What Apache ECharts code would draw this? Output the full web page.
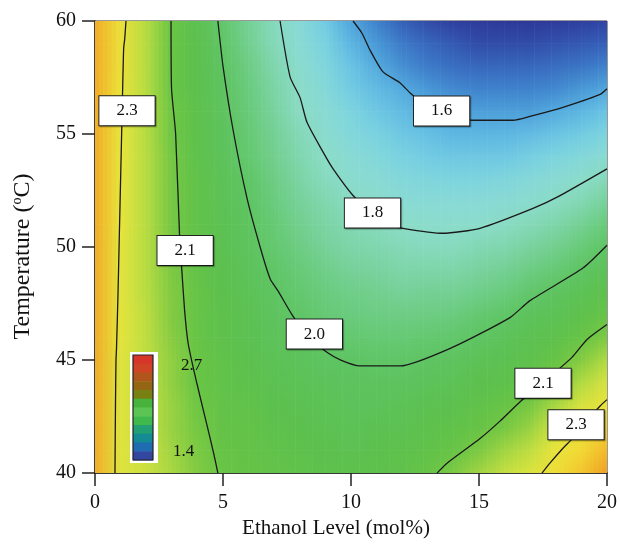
<!DOCTYPE html>
<html>
<head>
<meta charset="utf-8">
<script src="https://cdn.jsdelivr.net/npm/echarts@6/dist/echarts.min.js"></script>
<style>
  html, body { margin: 0; padding: 0; background: #fff; }
  #main { width: 620px; height: 544px; }
</style>
</head>
<body>
<div id="main"></div>
<script>
// ethanol level (mol%) columns and temperature rows of the response grid
var ethanol = [0, 1, 2, 3, 4, 5, 6, 7, 8, 9, 10, 11, 12, 13, 14, 15, 16, 17, 18, 19, 20];
var temps = [60, 59, 58, 57, 56, 55, 54, 53, 52, 51, 50, 49, 48, 47, 46, 45, 44, 43, 42, 41, 40];
// response values, one row per temperature (top row = 60)
var response = [
  [2.42, 2.32, 2.21, 2.10, 2.04, 1.98, 1.90, 1.82, 1.75, 1.68, 1.60, 1.55, 1.50, 1.47, 1.45, 1.44, 1.43, 1.43, 1.44, 1.45, 1.46],
  [2.42, 2.32, 2.21, 2.10, 2.05, 1.99, 1.91, 1.83, 1.76, 1.70, 1.63, 1.58, 1.54, 1.51, 1.49, 1.47, 1.47, 1.47, 1.48, 1.49, 1.50],
  [2.42, 2.32, 2.21, 2.10, 2.05, 2.00, 1.93, 1.85, 1.78, 1.72, 1.66, 1.61, 1.57, 1.54, 1.52, 1.51, 1.51, 1.51, 1.52, 1.53, 1.55],
  [2.42, 2.31, 2.21, 2.10, 2.05, 2.01, 1.94, 1.87, 1.80, 1.74, 1.68, 1.64, 1.61, 1.58, 1.56, 1.55, 1.55, 1.55, 1.56, 1.58, 1.60],
  [2.42, 2.31, 2.21, 2.11, 2.06, 2.01, 1.95, 1.88, 1.81, 1.76, 1.71, 1.67, 1.64, 1.61, 1.60, 1.59, 1.59, 1.59, 1.61, 1.63, 1.66],
  [2.42, 2.30, 2.21, 2.11, 2.06, 2.02, 1.96, 1.90, 1.83, 1.78, 1.73, 1.70, 1.67, 1.65, 1.63, 1.63, 1.63, 1.64, 1.66, 1.68, 1.71],
  [2.42, 2.30, 2.21, 2.12, 2.06, 2.02, 1.97, 1.91, 1.85, 1.80, 1.76, 1.73, 1.70, 1.68, 1.67, 1.67, 1.67, 1.69, 1.71, 1.73, 1.77],
  [2.42, 2.30, 2.21, 2.12, 2.07, 2.03, 1.99, 1.93, 1.87, 1.82, 1.78, 1.76, 1.73, 1.72, 1.71, 1.71, 1.72, 1.74, 1.76, 1.79, 1.83],
  [2.42, 2.30, 2.21, 2.12, 2.07, 2.03, 2.00, 1.94, 1.89, 1.85, 1.81, 1.79, 1.76, 1.75, 1.75, 1.75, 1.76, 1.78, 1.81, 1.84, 1.89],
  [2.42, 2.30, 2.21, 2.12, 2.07, 2.04, 2.01, 1.96, 1.91, 1.87, 1.84, 1.82, 1.80, 1.79, 1.79, 1.79, 1.81, 1.83, 1.86, 1.90, 1.95],
  [2.42, 2.29, 2.21, 2.13, 2.08, 2.04, 2.01, 1.97, 1.93, 1.89, 1.86, 1.85, 1.83, 1.82, 1.82, 1.84, 1.85, 1.88, 1.91, 1.95, 2.00],
  [2.42, 2.29, 2.21, 2.13, 2.08, 2.05, 2.02, 1.99, 1.95, 1.92, 1.89, 1.88, 1.86, 1.86, 1.86, 1.88, 1.90, 1.93, 1.96, 2.00, 2.03],
  [2.42, 2.29, 2.21, 2.14, 2.09, 2.05, 2.03, 2.00, 1.97, 1.94, 1.92, 1.91, 1.89, 1.90, 1.90, 1.92, 1.94, 1.98, 2.01, 2.03, 2.06],
  [2.42, 2.29, 2.22, 2.14, 2.09, 2.06, 2.04, 2.01, 1.99, 1.96, 1.94, 1.93, 1.93, 1.93, 1.94, 1.97, 1.99, 2.02, 2.03, 2.06, 2.09],
  [2.42, 2.29, 2.22, 2.15, 2.09, 2.06, 2.04, 2.02, 2.01, 1.99, 1.97, 1.96, 1.96, 1.97, 1.98, 2.00, 2.02, 2.04, 2.06, 2.09, 2.13],
  [2.42, 2.28, 2.22, 2.16, 2.10, 2.07, 2.05, 2.03, 2.02, 2.00, 2.00, 1.99, 1.99, 2.00, 2.01, 2.03, 2.04, 2.06, 2.09, 2.14, 2.20],
  [2.42, 2.28, 2.23, 2.16, 2.10, 2.07, 2.06, 2.04, 2.03, 2.02, 2.01, 2.01, 2.01, 2.02, 2.03, 2.05, 2.06, 2.09, 2.13, 2.20, 2.26],
  [2.42, 2.28, 2.23, 2.17, 2.11, 2.08, 2.07, 2.05, 2.04, 2.03, 2.02, 2.02, 2.03, 2.04, 2.05, 2.07, 2.09, 2.12, 2.19, 2.26, 2.31],
  [2.42, 2.28, 2.23, 2.17, 2.12, 2.08, 2.08, 2.06, 2.05, 2.04, 2.03, 2.04, 2.04, 2.06, 2.07, 2.09, 2.12, 2.17, 2.25, 2.31, 2.36],
  [2.42, 2.28, 2.24, 2.18, 2.13, 2.09, 2.08, 2.07, 2.06, 2.05, 2.04, 2.05, 2.06, 2.07, 2.09, 2.13, 2.18, 2.22, 2.30, 2.35, 2.40],
  [2.42, 2.28, 2.24, 2.19, 2.14, 2.10, 2.09, 2.08, 2.07, 2.06, 2.06, 2.06, 2.07, 2.09, 2.13, 2.18, 2.23, 2.27, 2.33, 2.38, 2.44]
];

// contour lines, [ethanol, temperature] along each line
var contour23Left = [[1.21, 60], [1.16, 59.2], [1.12, 58.8], [1.08, 57], [1.04, 55], [0.99, 52.5], [0.94, 50], [0.9, 48], [0.84, 45.5], [0.82, 45], [0.8, 43], [0.78, 40]];
var contour21Left = [[2.97, 60], [2.99, 57], [3.15, 55], [3.32, 50], [3.39, 49], [3.5, 47.2], [3.63, 45.8], [3.83, 44.7], [4.1, 43.4], [4.4, 42.0], [4.65, 40.8], [4.8, 40]];
var contour20 = [[4.8, 60], [5.0, 58], [5.39, 55.2], [5.94, 52.15], [6.45, 50], [6.84, 48.6], [7.15, 48.06], [7.7, 47], [8.35, 46], [9.06, 45.35], [9.6, 45.0], [10.35, 44.74], [11.91, 44.74], [13.98, 45.57], [16.21, 46.88], [16.99, 47.63], [19.06, 49.07], [20, 50.08]];
var contour18 = [[7.23, 60], [7.62, 57.53], [8.01, 56.61], [8.28, 55.52], [8.91, 54.2], [9.3, 53.46], [10.08, 52.28], [10.8, 51.5], [11.5, 51.0], [12.03, 50.83], [13.59, 50.61], [15.04, 50.83], [17.11, 51.71], [18.09, 52.23], [20, 53.46]];
var contour16 = [[10.08, 60], [10.43, 59.46], [10.74, 58.72], [11.25, 57.75], [11.91, 57.27], [12.3, 56.83], [13.0, 56.2], [14.0, 55.75], [14.77, 55.61], [16.33, 55.61], [16.99, 55.78], [18.28, 56.18], [19.73, 56.75], [20, 57.0]];
var contour21Right = [[13.36, 40], [13.75, 40.44], [15.04, 41.53], [15.82, 42.3], [16.65, 43.2], [17.5, 44.0], [18.63, 45.12], [19.22, 45.91], [20, 46.57]];
var contour23Right = [[17.46, 40], [17.77, 40.44], [18.28, 41.1], [18.63, 41.5], [19.2, 42.3], [19.73, 42.97], [20, 43.25]];

// contour labels
var labelText = ['2.3', '2.1', '2.0', '1.8', '1.6', '2.1', '2.3'];
var labelX = [1.25, 3.52, 8.57, 10.84, 13.54, 17.5, 18.79];
var labelY = [56.03, 49.85, 46.15, 51.51, 56.02, 43.98, 42.14];

var serif = '"Liberation Serif", "Times New Roman", serif';
var nCol = ethanol.length, nRow = temps.length;

var gridData = [];
temps.forEach(function (t, j) {
  ethanol.forEach(function (e, i) {
    gridData.push([e, t, response[j][i]]);
  });
});

var contours = [contour23Left, contour21Left, contour20, contour18, contour16, contour21Right, contour23Right];
var lineSeries = contours.map(function (c) {
  return {
    type: 'line',
    data: c,
    showSymbol: false,
    smooth: 0.2,
    z: 3,
    lineStyle: { color: '#1a1a1a', width: 1.3 }
  };
});

var labelData = labelText.map(function (t, i) {
  return { value: [labelX[i], labelY[i]], name: t };
});

// colour bar decoration
var barColors = ['#d8352a', '#cf4424', '#b0561c', '#946614', '#788012', '#48b33c', '#5bc453', '#3fb84c', '#22a074', '#148a94', '#1f6cb0', '#3147a0'];
var graphics = [{ type: 'rect', shape: { x: 130, y: 352, width: 28, height: 111 }, style: { fill: '#fff' }, z: 10 }];
barColors.forEach(function (c, k) {
  graphics.push({ type: 'rect', shape: { x: 133, y: 355 + k * 105 / barColors.length, width: 20, height: 105 / barColors.length + 0.5 }, style: { fill: c }, z: 11 });
});
graphics.push({ type: 'rect', shape: { x: 133, y: 355, width: 20, height: 105 }, style: { fill: 'none', stroke: '#222', lineWidth: 1.2 }, z: 12 });
graphics.push({ type: 'text', x: 181, y: 357, style: { text: '2.7', font: '17px ' + serif, fill: '#111' }, z: 12 });
graphics.push({ type: 'text', x: 173, y: 443, style: { text: '1.4', font: '17px ' + serif, fill: '#111' }, z: 12 });

var myChart = echarts.init(document.getElementById('main'));

var axisCommon = {
  type: 'value',
  axisLine: { show: true, lineStyle: { color: '#222', width: 1.5 } },
  axisTick: { show: true, length: 13, lineStyle: { color: '#222', width: 1.5 } },
  axisLabel: { fontSize: 20, fontFamily: serif, color: '#111' },
  splitLine: { show: false },
  nameLocation: 'middle'
};

// each grid cell is filled with narrow strips that blend the four corner colours
var STRIPS = 6;
function renderCell(params, api) {
  var idx = params.dataIndexInside;
  var col = idx % nCol, row = Math.floor(idx / nCol);
  if (col === nCol - 1 || row === nRow - 1) return;
  var pTL = api.coord([ethanol[col], temps[row]]);
  var pBR = api.coord([ethanol[col + 1], temps[row + 1]]);
  var cTL = api.visual('color', idx);
  var cTR = api.visual('color', idx + 1);
  var cBL = api.visual('color', idx + nCol);
  var cBR = api.visual('color', idx + nCol + 1);
  var w = (pBR[0] - pTL[0]) / STRIPS;
  var children = [];
  for (var s = 0; s < STRIPS; s++) {
    var f = (s + 0.5) / STRIPS;
    var top = echarts.color.lerp(f, [cTL, cTR]);
    var bot = echarts.color.lerp(f, [cBL, cBR]);
    children.push({
      type: 'rect',
      shape: { x: pTL[0] + s * w - 0.3, y: pTL[1] - 0.3, width: w + 0.6, height: pBR[1] - pTL[1] + 0.6 },
      style: {
        fill: new echarts.graphic.LinearGradient(0, 0, 0, 1, [
          { offset: 0, color: top }, { offset: 1, color: bot }
        ])
      }
    });
  }
  return { type: 'group', children: children };
}

option = {
  animation: false,
  grid: { left: 95, right: 13, top: 21, bottom: 67, show: true, borderColor: '#333', borderWidth: 1, backgroundColor: 'transparent' },
  xAxis: Object.assign({}, axisCommon, {
    min: 0, max: 20, interval: 5,
    axisLabel: Object.assign({}, axisCommon.axisLabel, { margin: 20 }),
    name: 'Ethanol Level (mol%)',
    nameGap: 38,
    nameTextStyle: { fontSize: 21, fontFamily: serif, color: '#111', padding: [0, 30, 0, 0] }
  }),
  yAxis: Object.assign({}, axisCommon, {
    min: 40, max: 60, interval: 5,
    axisLabel: Object.assign({}, axisCommon.axisLabel, { margin: 19 }),
    name: 'Temperature ({s|o}C)',
    nameGap: 60,
    nameTextStyle: {
      fontSize: 24, fontFamily: serif, color: '#111', padding: [0, 19, 0, 0],
      rich: { s: { fontSize: 14, fontFamily: serif, color: '#111', verticalAlign: 'top', padding: [0, 0, 11, 0] } }
    }
  }),
  visualMap: {
    type: 'continuous',
    show: false,
    dimension: 2,
    seriesIndex: 0,
    min: 1.40,
    max: 2.50,
    inRange: {
      color: ['#2a2e8e', '#2f3e9e', '#3560b8', '#3f82cc', '#50a6dc', '#66c0e4', '#7ad2e0', '#88dad6',
        '#8cdcc8', '#80d6ae', '#74d094', '#68ca78', '#5ec462', '#5cc04e', '#68c444', '#88cc42',
        '#b0da42', '#d2e240', '#e8e43c', '#f2d834', '#f2b82a', '#ee9a22', '#e88020']
    }
  },
  graphic: graphics,
  series: [{
    type: 'custom',
    data: gridData,
    encode: { x: 0, y: 1 },
    clip: true,
    z: 1,
    renderItem: renderCell
  }].concat(lineSeries).concat([{
    type: 'scatter',
    data: labelData,
    symbolSize: 0,
    z: 10,
    itemStyle: { opacity: 1 },
    label: {
      show: true,
      position: 'inside',
      formatter: function (p) { return p.name; },
      fontFamily: serif,
      fontSize: 17,
      lineHeight: 20,
      color: '#111',
      opacity: 1,
      backgroundColor: '#fff',
      borderColor: '#222',
      borderWidth: 1,
      padding: [5, 17, 4, 17],
      shadowColor: 'rgba(0,0,0,0.35)',
      shadowOffsetX: 1,
      shadowOffsetY: 1,
      shadowBlur: 1
    }
  }])
};

myChart.setOption(option);
</script>
</body>
</html>
